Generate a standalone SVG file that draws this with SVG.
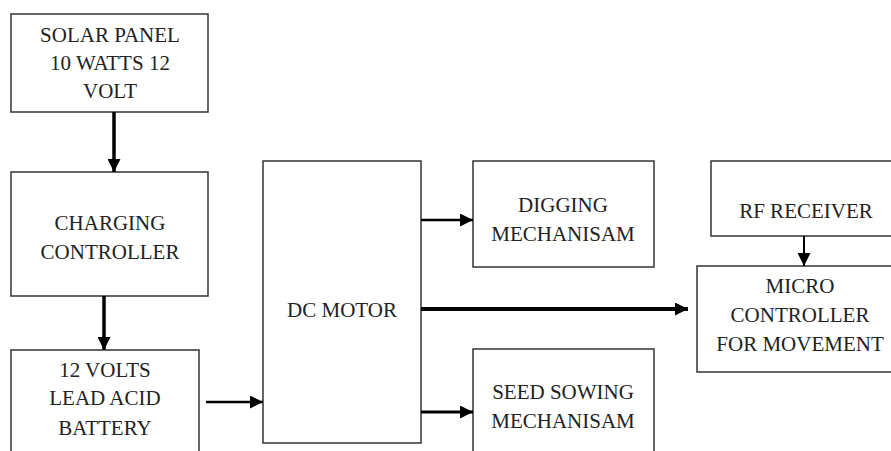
<svg xmlns="http://www.w3.org/2000/svg" width="891" height="451" viewBox="0 0 891 451">
<style>
.box{fill:#fff;stroke:#333;stroke-width:1.5}
.t{font-family:'Liberation Serif','DejaVu Serif',serif;font-size:21px;fill:#222;text-anchor:middle}
.c{stroke:#000;fill:none}
</style>
<defs>
<marker id="ah" viewBox="0 0 10 10" refX="10" refY="5" markerWidth="13" markerHeight="13" markerUnits="userSpaceOnUse" orient="auto">
<path d="M0,0 L10,5 L0,10 Z" fill="#000"/>
</marker>
</defs>
<rect width="891" height="451" fill="#fff"/>
<g id="solar">
<rect class="box" x="11" y="14" width="197" height="98"/>
<text class="t" x="110" y="42">SOLAR PANEL</text>
<text class="t" x="110" y="70">10 WATTS 12</text>
<text class="t" x="110" y="98">VOLT</text>
</g>
<g id="charging">
<rect class="box" x="11" y="172" width="197" height="124"/>
<text class="t" x="110" y="230">CHARGING</text>
<text class="t" x="110" y="259">CONTROLLER</text>
</g>
<g id="battery">
<rect class="box" x="11" y="350" width="188" height="110"/>
<text class="t" x="105" y="377">12 VOLTS</text>
<text class="t" x="105" y="405">LEAD ACID</text>
<text class="t" x="105" y="435">BATTERY</text>
</g>
<g id="dcmotor">
<rect class="box" x="263" y="161" width="158" height="282"/>
<text class="t" x="342" y="317">DC MOTOR</text>
</g>
<g id="digging">
<rect class="box" x="473" y="161" width="181" height="106"/>
<text class="t" x="563" y="212">DIGGING</text>
<text class="t" x="563" y="241">MECHANISAM</text>
</g>
<g id="seed">
<rect class="box" x="473" y="349" width="181" height="110"/>
<text class="t" x="563" y="399">SEED SOWING</text>
<text class="t" x="563" y="428">MECHANISAM</text>
</g>
<g id="rf">
<rect class="box" x="711" y="161" width="190" height="75"/>
<text class="t" x="806" y="218">RF RECEIVER</text>
</g>
<g id="micro">
<rect class="box" x="697" y="266" width="204" height="106"/>
<text class="t" x="800" y="293">MICRO</text>
<text class="t" x="800" y="322">CONTROLLER</text>
<text class="t" x="800" y="351">FOR MOVEMENT</text>
</g>
<g id="connectors">
<line class="c" x1="114" y1="112" x2="114" y2="172" stroke-width="3.5" marker-end="url(#ah)"/>
<line class="c" x1="104" y1="296" x2="104" y2="350" stroke-width="3.5" marker-end="url(#ah)"/>
<line class="c" x1="206" y1="402" x2="263" y2="402" stroke-width="2.5" marker-end="url(#ah)"/>
<line class="c" x1="421" y1="220" x2="473" y2="220" stroke-width="2.5" marker-end="url(#ah)"/>
<line class="c" x1="421" y1="412" x2="473" y2="412" stroke-width="3" marker-end="url(#ah)"/>
<line class="c" x1="421" y1="309" x2="688" y2="309" stroke-width="4" marker-end="url(#ah)"/>
<line class="c" x1="804" y1="236" x2="804" y2="266" stroke-width="2" marker-end="url(#ah)"/>
</g>
</svg>
